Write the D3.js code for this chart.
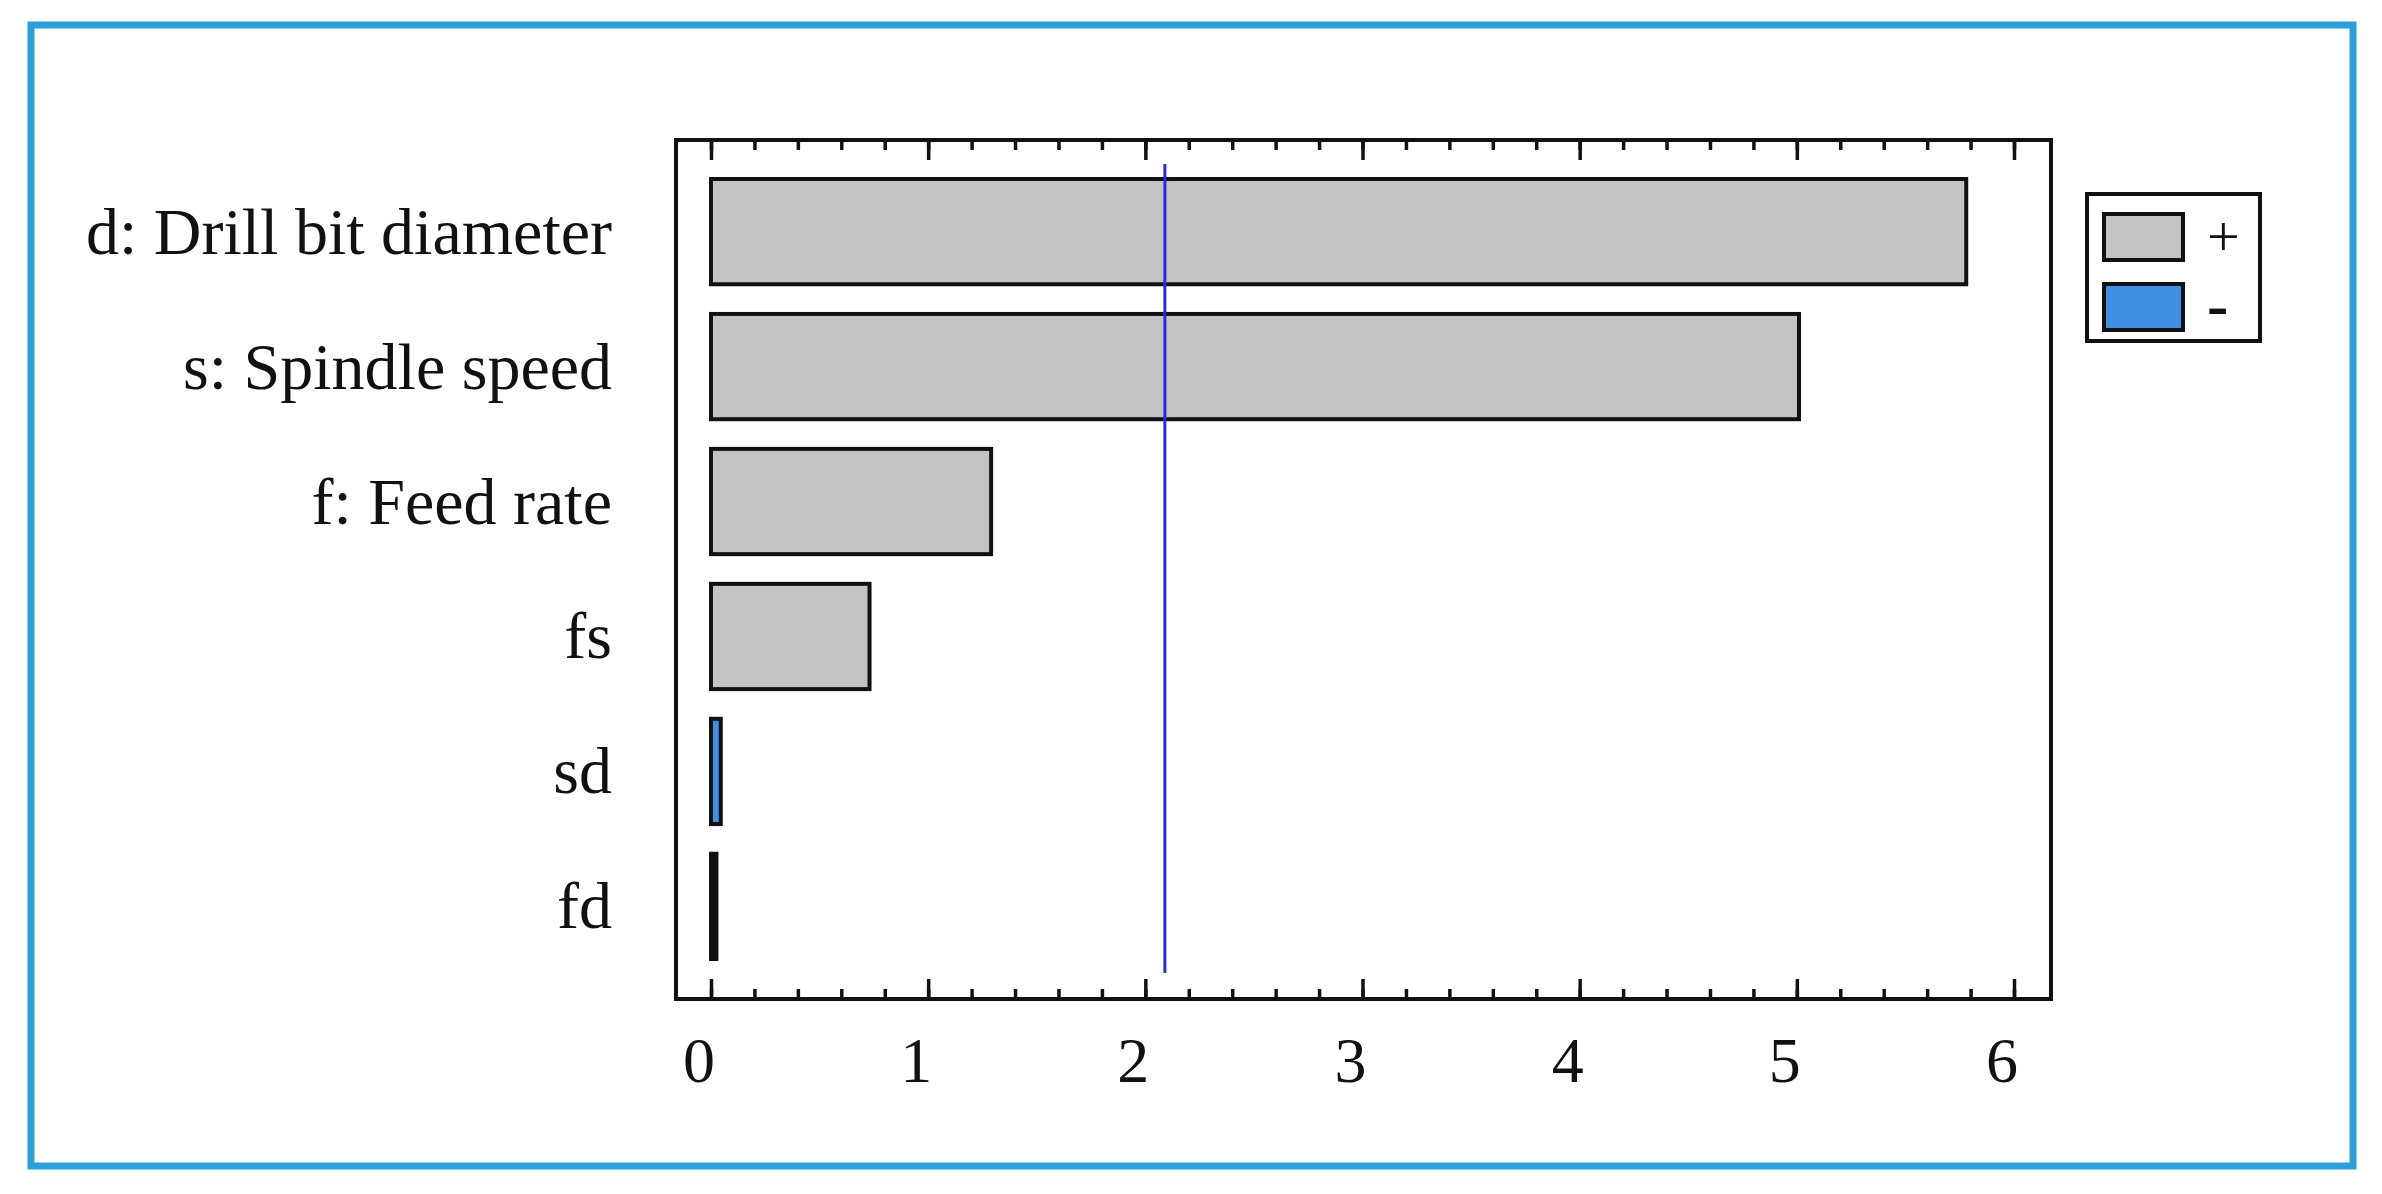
<!DOCTYPE html>
<html>
<head>
<meta charset="utf-8">
<script src="https://cdn.jsdelivr.net/npm/d3@7"></script>
<style>
  body { margin: 0; background: #fff; }
  text { font-family: "Liberation Serif", "DejaVu Serif", serif; fill: #111; }
</style>
</head>
<body>
<svg id="chart" width="2382" height="1194"></svg>
<script>
const categories = ["d: Drill bit diameter", "s: Spindle speed", "f: Feed rate", "fs", "sd", "fd"];
const effects = [5.78, 5.01, 1.29, 0.73, 0.045, 0.025];
const signs = ["+", "+", "+", "+", "-", "+"];
const criticalValue = 2.09;
const xTicks = [0, 1, 2, 3, 4, 5, 6];
const legendLabels = ["+", "-"];

const colors = { "+": "#c3c3c3", "-": "#3e90e6" };
const box = { left: 676, right: 2051, top: 140, bottom: 999 };

const svg = d3.select("#chart");

// outer blue frame
svg.append("rect").attr("x", 31).attr("y", 25).attr("width", 2322).attr("height", 1141)
  .attr("fill", "none").attr("stroke", "#2a9fdc").attr("stroke-width", 7);

const x = d3.scaleLinear().domain([0, 6]).range([711, 2014]);
const y = d3.scaleBand().domain(categories).range([179, 959]).paddingInner(0.22);

// plot box
svg.append("rect").attr("x", box.left).attr("y", box.top)
  .attr("width", box.right - box.left).attr("height", box.bottom - box.top)
  .attr("fill", "none").attr("stroke", "#111").attr("stroke-width", 4);

// bars (tiny positive bar reads as solid black in the original)
svg.selectAll(".bar").data(categories).join("rect")
  .attr("x", x(0))
  .attr("y", d => y(d))
  .attr("width", (d, i) => x(effects[i]) - x(0))
  .attr("height", y.bandwidth())
  .attr("fill", (d, i) => effects[i] < 0.03 ? "#111" : colors[signs[i]])
  .attr("stroke", "#111").attr("stroke-width", 4);

// reference line
svg.append("line").attr("x1", x(criticalValue)).attr("x2", x(criticalValue))
  .attr("y1", 164).attr("y2", 973).attr("stroke", "#2a2ae6").attr("stroke-width", 3);

// axes: ticks pointing inward, top and bottom
const minor = d3.range(0, 6.0001, 0.2);
const bottomAxis = d3.axisTop(x).tickValues(minor).tickSize(10).tickFormat("");
const topAxis = d3.axisBottom(x).tickValues(minor).tickSize(10).tickFormat("");
const bottomMajor = d3.axisTop(x).tickValues(xTicks).tickSize(20).tickFormat("");
const topMajor = d3.axisBottom(x).tickValues(xTicks).tickSize(20).tickFormat("");
[[bottomAxis, box.bottom], [bottomMajor, box.bottom], [topAxis, box.top], [topMajor, box.top]].forEach(([ax, ty]) => {
  const g = svg.append("g").attr("transform", `translate(0,${ty})`).call(ax);
  g.select(".domain").remove();
  g.selectAll("line").attr("stroke", "#111").attr("stroke-width", 3.5);
});

// tick labels
svg.selectAll(".xlab").data(xTicks).join("text")
  .attr("x", d => x(d) - 12).attr("y", 1082)
  .attr("text-anchor", "middle").attr("font-size", 64).text(d => d);

// category labels
svg.selectAll(".ylab").data(categories).join("text")
  .attr("x", 612).attr("y", d => y(d) + y.bandwidth() / 2 + 22)
  .attr("text-anchor", "end").attr("font-size", 66).text(d => d);

// legend
const lg = svg.append("g");
lg.append("rect").attr("x", 2087).attr("y", 194).attr("width", 173).attr("height", 147)
  .attr("fill", "#fff").attr("stroke", "#111").attr("stroke-width", 4);
legendLabels.forEach((l, i) => {
  lg.append("rect").attr("x", 2104).attr("y", 214 + i * 70).attr("width", 79).attr("height", 46)
    .attr("fill", colors[l]).attr("stroke", "#111").attr("stroke-width", 4);
  lg.append("text").attr("x", 2207).attr("y", 256 + i * 70)
    .attr("font-size", l === "+" ? 58 : 64).attr("font-weight", l === "-" ? "bold" : "normal").text(l);
});
</script>
</body>
</html>
